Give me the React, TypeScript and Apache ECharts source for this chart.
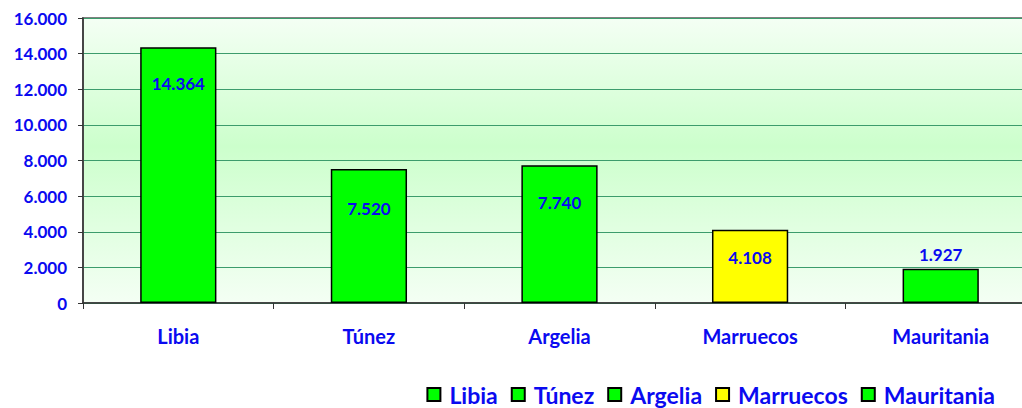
import React, { useEffect, useRef } from "react";
import * as echarts from "echarts";

const categories = ["Libia", "Túnez", "Argelia", "Marruecos", "Mauritania"];
const values = [14364, 7520, 7740, 4108, 1927];
const yTicks = { min: 0, max: 16000, interval: 2000 };

const barColors = ["#00ff00", "#00ff00", "#00ff00", "#ffff00", "#00ff00"];
const labelPlacement: { position: string; distance: number }[] = [
  { position: "insideTop", distance: 28 },
  { position: "insideTop", distance: 31 },
  { position: "insideTop", distance: 29 },
  { position: "insideTop", distance: 19 },
  { position: "top", distance: 6 },
];

const fmt = (v: number) =>
  String(Math.round(v)).replace(/\B(?=(\d{3})+(?!\d))/g, ".");

const FONT = "Lato, 'Noto Sans', sans-serif";
const BLUE = "#0a0af0";

export default function App() {
  const ref = useRef<HTMLDivElement>(null);
  useEffect(() => {
    document.body.style.margin = "0";
    document.body.style.overflow = "hidden";
    const chart = echarts.init(ref.current!, null, { renderer: "svg" });
    const series = categories.map((name, i) => ({
      name,
      type: "bar",
      stack: "all",
      barWidth: "40%",
      data: categories.map((_, j) => (j === i ? values[i] : null)),
      itemStyle: {
        color: barColors[i],
        borderColor: "#000000",
        borderWidth: 1.5,
      },
      label: {
        show: true,
        position: labelPlacement[i].position,
        distance: labelPlacement[i].distance,
        color: BLUE,
        fontFamily: FONT,
        fontWeight: "bold",
        fontSize: 17,
        formatter: (p: any) => fmt(p.value),
      },
    }));
    chart.setOption({
      animation: false,
      backgroundColor: "#ffffff",
      textStyle: { fontFamily: FONT },
      grid: {
        left: 83,
        right: 0,
        top: 18,
        bottom: 105,
        show: true,
        borderColor: "#808080",
        borderWidth: 2,
        backgroundColor: {
          type: "linear",
          x: 0,
          y: 0,
          x2: 0,
          y2: 1,
          colorStops: [
            { offset: 0, color: "#f4fff4" },
            { offset: 0.45, color: "#ccffcc" },
            { offset: 1, color: "#f4fff4" },
          ],
        },
      },
      legend: {
        data: categories,
        right: 36,
        top: 378,
        icon: "rect",
        itemWidth: 13,
        itemHeight: 13,
        itemGap: 13,
        textStyle: {
          color: BLUE,
          fontFamily: FONT,
          fontWeight: "bold",
          fontSize: 23,
          padding: [0, 0, 0, 4],
        },
      },
      xAxis: {
        type: "category",
        data: categories,
        axisLine: { lineStyle: { color: "#333333", width: 1.5 } },
        axisTick: { show: true, length: 6, lineStyle: { color: "#333333" } },
        axisLabel: {
          color: BLUE,
          fontFamily: FONT,
          fontWeight: "bold",
          fontSize: 20,
          margin: 23,
        },
      },
      yAxis: {
        type: "value",
        min: yTicks.min,
        max: yTicks.max,
        interval: yTicks.interval,
        axisLine: { show: true, lineStyle: { color: "#333333", width: 1.5 } },
        axisTick: { show: true, length: 5, lineStyle: { color: "#333333" } },
        splitLine: { lineStyle: { color: "#3c9c6c", width: 1 } },
        axisLabel: {
          color: BLUE,
          fontFamily: FONT,
          fontWeight: "bold",
          fontSize: 17,
          margin: 16,
          formatter: (v: number) => fmt(v),
        },
      },
      series,
    });
    return () => chart.dispose();
  }, []);
  return <div ref={ref} style={{ width: 1036, height: 408 }} />;
}
